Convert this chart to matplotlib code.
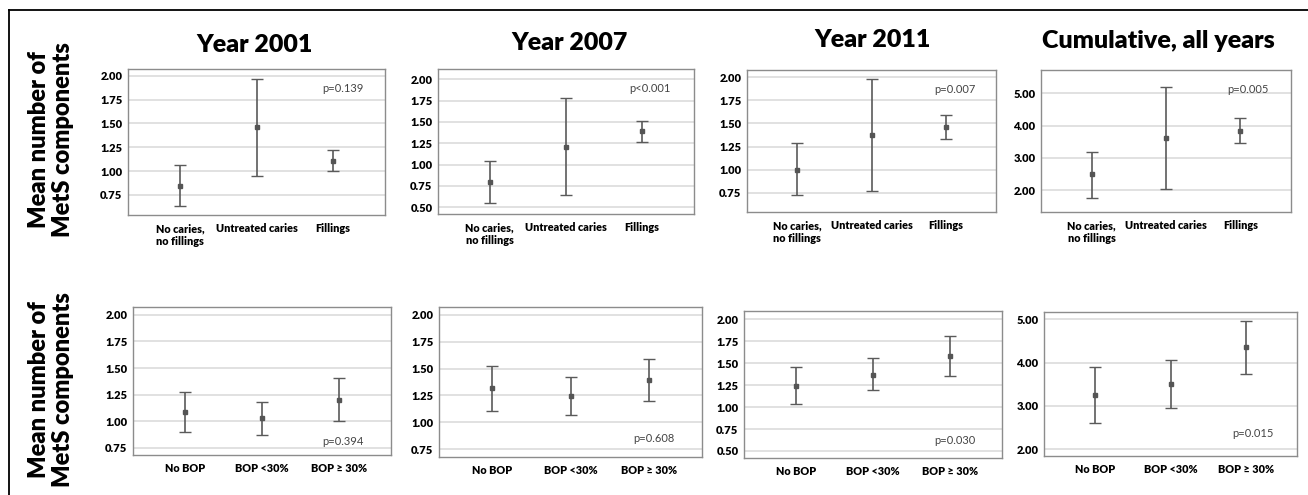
import matplotlib.pyplot as plt
from matplotlib.lines import Line2D

# categories
caries_cats = ["No caries,\nno fillings", "Untreated caries", "Fillings"]
bop_cats = ["No BOP", "BOP <30%", "BOP \u2265 30%"]
col_titles = ["Year 2001", "Year 2007", "Year 2011", "Cumulative, all years"]

# caries row: mean, lower CI, upper CI
caries_2001_mean = [0.845, 1.46, 1.11]
caries_2001_lo = [0.63, 0.945, 1.00]
caries_2001_hi = [1.063, 1.965, 1.22]
caries_2007_mean = [0.80, 1.21, 1.39]
caries_2007_lo = [0.55, 0.645, 1.26]
caries_2007_hi = [1.04, 1.78, 1.51]
caries_2011_mean = [1.00, 1.377, 1.464]
caries_2011_lo = [0.725, 0.77, 1.33]
caries_2011_hi = [1.286, 1.985, 1.59]
caries_cum_mean = [2.49, 3.61, 3.83]
caries_cum_lo = [1.75, 2.02, 3.45]
caries_cum_hi = [3.19, 5.19, 4.22]

# BOP row
bop_2001_mean = [1.09, 1.025, 1.20]
bop_2001_lo = [0.90, 0.87, 1.00]
bop_2001_hi = [1.275, 1.177, 1.41]
bop_2007_mean = [1.315, 1.245, 1.39]
bop_2007_lo = [1.11, 1.07, 1.20]
bop_2007_hi = [1.52, 1.425, 1.59]
bop_2011_mean = [1.243, 1.37, 1.58]
bop_2011_lo = [1.03, 1.19, 1.35]
bop_2011_hi = [1.455, 1.565, 1.81]
bop_cum_mean = [3.26, 3.50, 4.36]
bop_cum_lo = [2.61, 2.94, 3.74]
bop_cum_hi = [3.90, 4.05, 4.97]

caries_p = ["p=0.139", "p<0.001", "p=0.007", "p=0.005"]
bop_p = ["p=0.394", "p=0.608", "p=0.030", "p=0.015"]

# layout (pixel boxes: left, top, right, bottom)
W, H = 1308, 495
boxes = [
    (128, 69, 385, 215), (438, 69, 694, 214), (747, 70, 996, 212), (1041, 70, 1291, 212),
    (133, 307, 391, 455), (439, 307, 702, 457), (744, 311, 1002, 458), (1044, 312, 1297, 456),
]
ylims = [(0.54, 2.07), (0.42, 2.12), (0.54, 2.08), (1.32, 5.72),
         (0.68, 2.075), (0.68, 2.07), (0.42, 2.095), (1.84, 5.17)]
yticks_q = [0.75, 1.00, 1.25, 1.50, 1.75, 2.00]
yticks_h = [0.50] + yticks_q
yticks_c = [2.0, 3.0, 4.0, 5.0]
yticks = [yticks_q, yticks_h, yticks_q, yticks_c, yticks_q, yticks_q, yticks_h, yticks_c]
p_pos = [(2.13, 1.87), (2.10, 1.89), (2.13, 1.87), (2.10, 5.12),
         (2.05, 0.81), (2.07, 0.85), (2.07, 0.617), (2.10, 2.35)]
title_pos = [(255, 45), (570, 43), (873, 40), (1158, 41)]

panels = [
    (caries_2001_mean, caries_2001_lo, caries_2001_hi),
    (caries_2007_mean, caries_2007_lo, caries_2007_hi),
    (caries_2011_mean, caries_2011_lo, caries_2011_hi),
    (caries_cum_mean, caries_cum_lo, caries_cum_hi),
    (bop_2001_mean, bop_2001_lo, bop_2001_hi),
    (bop_2007_mean, bop_2007_lo, bop_2007_hi),
    (bop_2011_mean, bop_2011_lo, bop_2011_hi),
    (bop_cum_mean, bop_cum_lo, bop_cum_hi),
]

plt.rcParams["font.family"] = ["Lato", "DejaVu Sans"]

fig = plt.figure(figsize=(W / 100, H / 100), dpi=100)

for i, (mean, lo, hi) in enumerate(panels):
    l, t, r, b = boxes[i]
    ax = fig.add_axes([l / W, 1 - b / H, (r - l) / W, (b - t) / H])
    cats = caries_cats if i < 4 else bop_cats
    x = list(range(len(cats)))
    yerr = [[m - a for m, a in zip(mean, lo)], [c - m for m, c in zip(mean, hi)]]
    ax.errorbar(x, mean, yerr=yerr, fmt="s", ms=3.2, color="#555555",
                ecolor="#5a5a5a", elinewidth=1.2, capsize=4.5, capthick=1.0)
    ax.set_xlim(-0.68, 2.68)
    ax.set_ylim(*ylims[i])
    ax.set_yticks(yticks[i])
    ax.set_yticklabels([f"{v:.2f}" for v in yticks[i]], fontsize=8, fontweight="heavy")
    ax.set_xticks(x)
    ax.set_xticklabels(cats, fontsize=7.8, fontweight="heavy", va="top", ha="center")
    ax.tick_params(axis="both", length=0)
    ax.tick_params(axis="x", pad=6)
    ax.tick_params(axis="y", pad=4)
    ax.yaxis.grid(True, color="#dcdcdc", lw=1.2)
    ax.set_axisbelow(True)
    for s in ax.spines.values():
        s.set_color("#8c8c8c")
        s.set_linewidth(1.0)
    ptxt = caries_p[i] if i < 4 else bop_p[i - 4]
    ax.text(*p_pos[i], ptxt, fontsize=8, color="#444444", ha="center", va="center")

for title, (tx, ty) in zip(col_titles, title_pos):
    fig.text(tx / W, 1 - ty / H, title, fontsize=18, fontweight="heavy",
             ha="center", va="center")

for cy in (140, 390):
    fig.text(51 / W, 1 - cy / H, "Mean number of\nMetS components", fontsize=17,
             fontweight="heavy", rotation=90, ha="center", va="center",
             multialignment="center", linespacing=1.1)

# outer frame (top and left edges visible)
fig.add_artist(Line2D([9 / W, 1.0], [1 - 10 / H, 1 - 10 / H], color="black", lw=1.3))
fig.add_artist(Line2D([9 / W, 9 / W], [0.0, 1 - 10 / H], color="black", lw=1.3))

fig.savefig("out.png", dpi=100)
